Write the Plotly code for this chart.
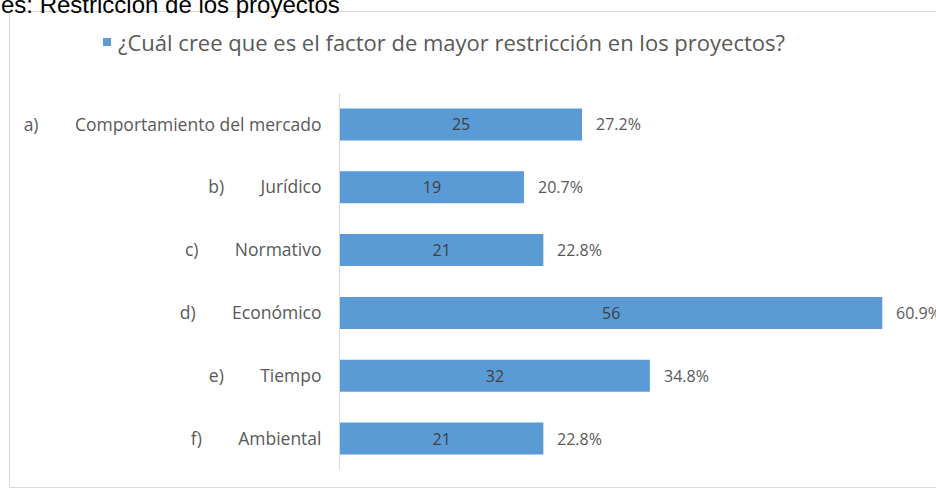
import plotly.graph_objects as go

# Survey answers: most restrictive factor in projects
letters = ["a)", "b)", "c)", "d)", "e)", "f)"]
factors = ["Comportamiento del mercado", "Jurídico", "Normativo",
           "Económico", "Tiempo", "Ambiental"]
counts = [25, 19, 21, 56, 32, 21]
percents = ["27.2%", "20.7%", "22.8%", "60.9%", "34.8%", "22.8%"]
series_name = "¿Cuál cree que es el factor de mayor restricción en los proyectos?"
caption = "es: Restricción de los proyectos"

GAP = "\u00a0" * 8
tick_labels = [f"{l}{GAP}{f}" for l, f in zip(letters, factors)]

W, H = 936, 489
L, R, T, B = 340, 15, 93, 19
pw, ph = W - L - R, H - T - B


def px_x(p):
    return (p - L) / pw


def px_y(q):
    return (H - B - q) / ph


TXT = "#595959"
BLUE = "#5B9BD5"
FONT = "Open Sans"
COUNT_FONT = dict(family=FONT, size=16, color="#404040")

fig = go.Figure()
fig.add_trace(go.Bar(
    y=tick_labels,
    x=counts,
    orientation="h",
    name=series_name,
    marker=dict(color=BLUE, line=dict(width=0)),
    text=[str(c) for c in counts],
    textposition="inside",
    insidetextanchor="middle",
    constraintext="none",
    textfont=COUNT_FONT,
    insidetextfont=COUNT_FONT,
    showlegend=False,
))

# percentage labels to the right of each bar
for lab, c, p in zip(tick_labels, counts, percents):
    fig.add_annotation(
        x=c, y=lab, xref="x", yref="y", text=p, showarrow=False,
        xanchor="left", xshift=12,
        font=dict(family=FONT, size=16, color=TXT),
    )

# series key: small square plus series name
fig.add_shape(
    type="rect", xref="paper", yref="paper",
    x0=px_x(103), x1=px_x(111), y0=px_y(46), y1=px_y(38),
    line=dict(width=0), fillcolor=BLUE,
)
fig.add_annotation(
    x=px_x(116), y=px_y(42), xref="paper", yref="paper",
    text=series_name, showarrow=False, xanchor="left", yanchor="middle",
    font=dict(family=FONT, size=22, color=TXT),
)

# caption line above the chart box
fig.add_annotation(
    x=px_x(-1), y=px_y(4), xref="paper", yref="paper",
    text=caption, showarrow=False, xanchor="left", yanchor="middle",
    font=dict(family="Liberation Sans, Arial", size=24, color="#000000"),
)

# chart box border
fig.add_shape(
    type="rect", xref="paper", yref="paper",
    x0=px_x(9.5), x1=px_x(945), y0=px_y(487.5), y1=px_y(11.5),
    line=dict(color="#d9d9d9", width=1), fillcolor="rgba(0,0,0,0)",
    layer="below",
)

fig.update_layout(
    width=W, height=H,
    margin=dict(l=L, r=R, t=T, b=B),
    paper_bgcolor="white", plot_bgcolor="white",
    bargap=0.49,
    font=dict(family=FONT, color=TXT),
    showlegend=False,
    xaxis=dict(range=[0, 60], showgrid=False, zeroline=False,
               showticklabels=False, showline=False),
    yaxis=dict(autorange="reversed", showgrid=False, zeroline=False,
               showline=True, linecolor="#d9d9d9", linewidth=1,
               ticks="outside", ticklen=14, tickcolor="rgba(0,0,0,0)",
               tickfont=dict(family=FONT, size=17.5, color=TXT)),
)

fig.write_html("out.html")
